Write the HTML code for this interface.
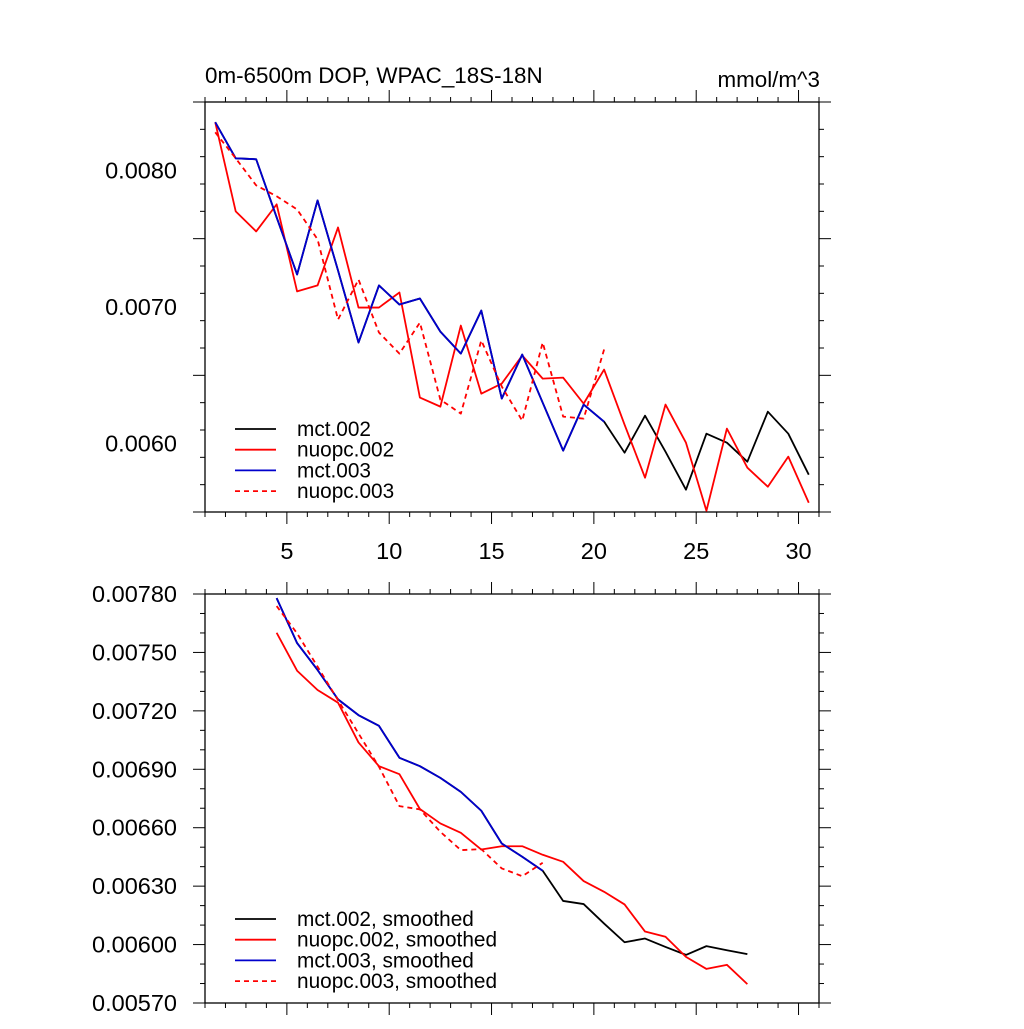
<!DOCTYPE html>
<html><head><meta charset="utf-8"><style>
html,body{margin:0;padding:0;background:#fff;}
svg text{font-family:"Liberation Sans",sans-serif;fill:#000;}
</style></head><body>
<svg id="chart" width="1024" height="1024" xmlns="http://www.w3.org/2000/svg">
<text x="205" y="83" font-size="22.4">0m-6500m DOP, WPAC_18S-18N</text>
<text x="820" y="87" font-size="22.4" text-anchor="end">mmol/m^3</text>
<g id="top"></g>
<g id="bot"></g>
</svg>
<script>
// Top panel data (x = index + 1.5)
const topMct002 = [0.008352,0.008088,0.008081,0.007656,0.007238,0.007780,0.007267,0.006740,0.007158,0.007018,0.007062,0.006820,0.006659,0.006974,0.006330,0.006652,0.006300,0.005949,0.006286,0.006161,0.005934,0.006205,0.005941,0.005663,0.006073,0.006007,0.005868,0.006234,0.006073,0.005773];
const topNuopc002 = [0.008352,0.007700,0.007553,0.007751,0.007114,0.007158,0.007582,0.006996,0.006996,0.007106,0.006337,0.006271,0.006864,0.006366,0.006440,0.006645,0.006476,0.006483,0.006293,0.006542,0.006139,0.005751,0.006286,0.006007,0.005509,0.006110,0.005824,0.005685,0.005905,0.005568];
const topMct003 = [0.008352,0.008088,0.008081,0.007656,0.007238,0.007780,0.007267,0.006740,0.007158,0.007018,0.007062,0.006820,0.006659,0.006974,0.006330,0.006652,0.006300,0.005949,0.006286,0.006161];
const topNuopc003 = [0.008278,0.008088,0.007890,0.007810,0.007714,0.007495,0.006908,0.007201,0.006813,0.006659,0.006886,0.006322,0.006220,0.006755,0.006418,0.006168,0.006740,0.006198,0.006183,0.006689];
// Bottom panel (smoothed), x = index + 4.5
const botMct002 = [0.007779,0.007548,0.007410,0.007259,0.007178,0.007123,0.006959,0.006916,0.006856,0.006784,0.006687,0.006519,0.006451,0.006379,0.006224,0.006208,0.006108,0.006012,0.006031,0.005988,0.005947,0.005992,0.005971,0.005951];
const botNuopc002 = [0.007601,0.007406,0.007307,0.007242,0.007038,0.006916,0.006875,0.006696,0.006622,0.006574,0.006488,0.006505,0.006505,0.006461,0.006425,0.006326,0.006271,0.006206,0.006067,0.006040,0.005937,0.005875,0.005896,0.005797];
const botMct003 = [0.007779,0.007548,0.007410,0.007259,0.007178,0.007123,0.006959,0.006916,0.006856,0.006784,0.006687,0.006519,0.006451,0.006379];
const botNuopc003 = [0.007738,0.007598,0.007427,0.007255,0.007084,0.006913,0.006711,0.006694,0.006579,0.006485,0.006490,0.006391,0.006351,0.006420];
const xTicks = [5,10,15,20,25,30];
const topYTicks = ["0.0060","0.0070","0.0080"];
const botYTicks = ["0.00570","0.00600","0.00630","0.00660","0.00690","0.00720","0.00750","0.00780"];
const topLegend = ["mct.002","nuopc.002","mct.003","nuopc.003"];
const botLegend = ["mct.002, smoothed","nuopc.002, smoothed","mct.003, smoothed","nuopc.003, smoothed"];

const NS="http://www.w3.org/2000/svg";
const L=205,R=819;
const xs=v=>L+(v-1)/30*(R-L);
function mk(parent,tag,attrs){const e=document.createElementNS(NS,tag);for(const k in attrs)e.setAttribute(k,attrs[k]);parent.appendChild(e);return e;}

function panel(g,T,B,ymin,ymax,yMajor,yMinor,yLabels,xLabels,series,legend,legY){
  const ys=v=>B-(v-ymin)/(ymax-ymin)*(B-T);
  const fr=mk(g,'rect',{x:L,y:T,width:R-L,height:B-T,fill:'none',stroke:'#000','stroke-width':1.3});
  
  
  for(let x=1;x<=31;x++){
    const len=(x%5===0)?12:5;
    const px=xs(x);
    const t1=mk(g,'line',{x1:px,x2:px,y1:B,y2:B+len,stroke:'#000','stroke-width':1});
    
    
    const t2=mk(g,'line',{x1:px,x2:px,y1:T,y2:T-len,stroke:'#000','stroke-width':1});
    
    
  }
  const n=Math.round((ymax-ymin)/yMinor);
  for(let i=0;i<=n;i++){
    const v=ymin+i*yMinor;
    const r=(v-ymin)/yMajor;
    const maj=Math.abs(r-Math.round(r))<1e-6;
    const len=maj?12:5, py=ys(v);
    const t1=mk(g,'line',{x1:L,x2:L-len,y1:py,y2:py,stroke:'#000','stroke-width':1});
    
    
    const t2=mk(g,'line',{x1:R,x2:R+len,y1:py,y2:py,stroke:'#000','stroke-width':1});
    
    
  }
  yLabels.forEach(s=>{
    const t=mk(g,'text',{x:177,y:ys(parseFloat(s))+8,'font-size':23.5,'text-anchor':'end'});
    t.textContent=s;
    
    
  });
  if(xLabels){xLabels.forEach(v=>{
    const t=mk(g,'text',{x:xs(v),y:B+47,'font-size':23.5,'text-anchor':'middle'});
    t.textContent=String(v);
    
    
  });}
  series.forEach(s=>{
    const pts=s.data.map((v,i)=>xs(i+s.start)+','+ys(v)).join(' ');
    const p=mk(g,'polyline',{points:pts,fill:'none',stroke:s.color,'stroke-width':1.8,'stroke-dasharray':s.dash?'5,4':'none','stroke-linejoin':'round'});
    
    
  });
  legend.forEach((txt,i)=>{
    const s=series[i], y=legY+i*20.7;
    const ln=mk(g,'line',{x1:235,x2:276,y1:y,y2:y,stroke:s.color,'stroke-width':1.8,'stroke-dasharray':s.dash?'5,4':'none'});
    
    
    const t=mk(g,'text',{x:297,y:y+7,'font-size':20.8});
    t.textContent=txt;
    
    
  });
}
panel(document.getElementById('top'),102,512,0.0055,0.0085,0.001,0.0002,topYTicks,xTicks,[
  {data:topMct002,start:1.5,color:'#000',name:'line-mct002'},
  {data:topNuopc002,start:1.5,color:'#f00',name:'line-nuopc002'},
  {data:topMct003,start:1.5,color:'#00c',name:'line-mct003'},
  {data:topNuopc003,start:1.5,color:'#f00',dash:true,name:'line-nuopc003'}
],topLegend,429);
panel(document.getElementById('bot'),594,1003,0.0057,0.0078,0.0003,0.0001,botYTicks,null,[
  {data:botMct002,start:4.5,color:'#000',name:'line-mct002-smoothed'},
  {data:botNuopc002,start:4.5,color:'#f00',name:'line-nuopc002-smoothed'},
  {data:botMct003,start:4.5,color:'#00c',name:'line-mct003-smoothed'},
  {data:botNuopc003,start:4.5,color:'#f00',dash:true,name:'line-nuopc003-smoothed'}
],botLegend,919);
</script>
</body></html>
